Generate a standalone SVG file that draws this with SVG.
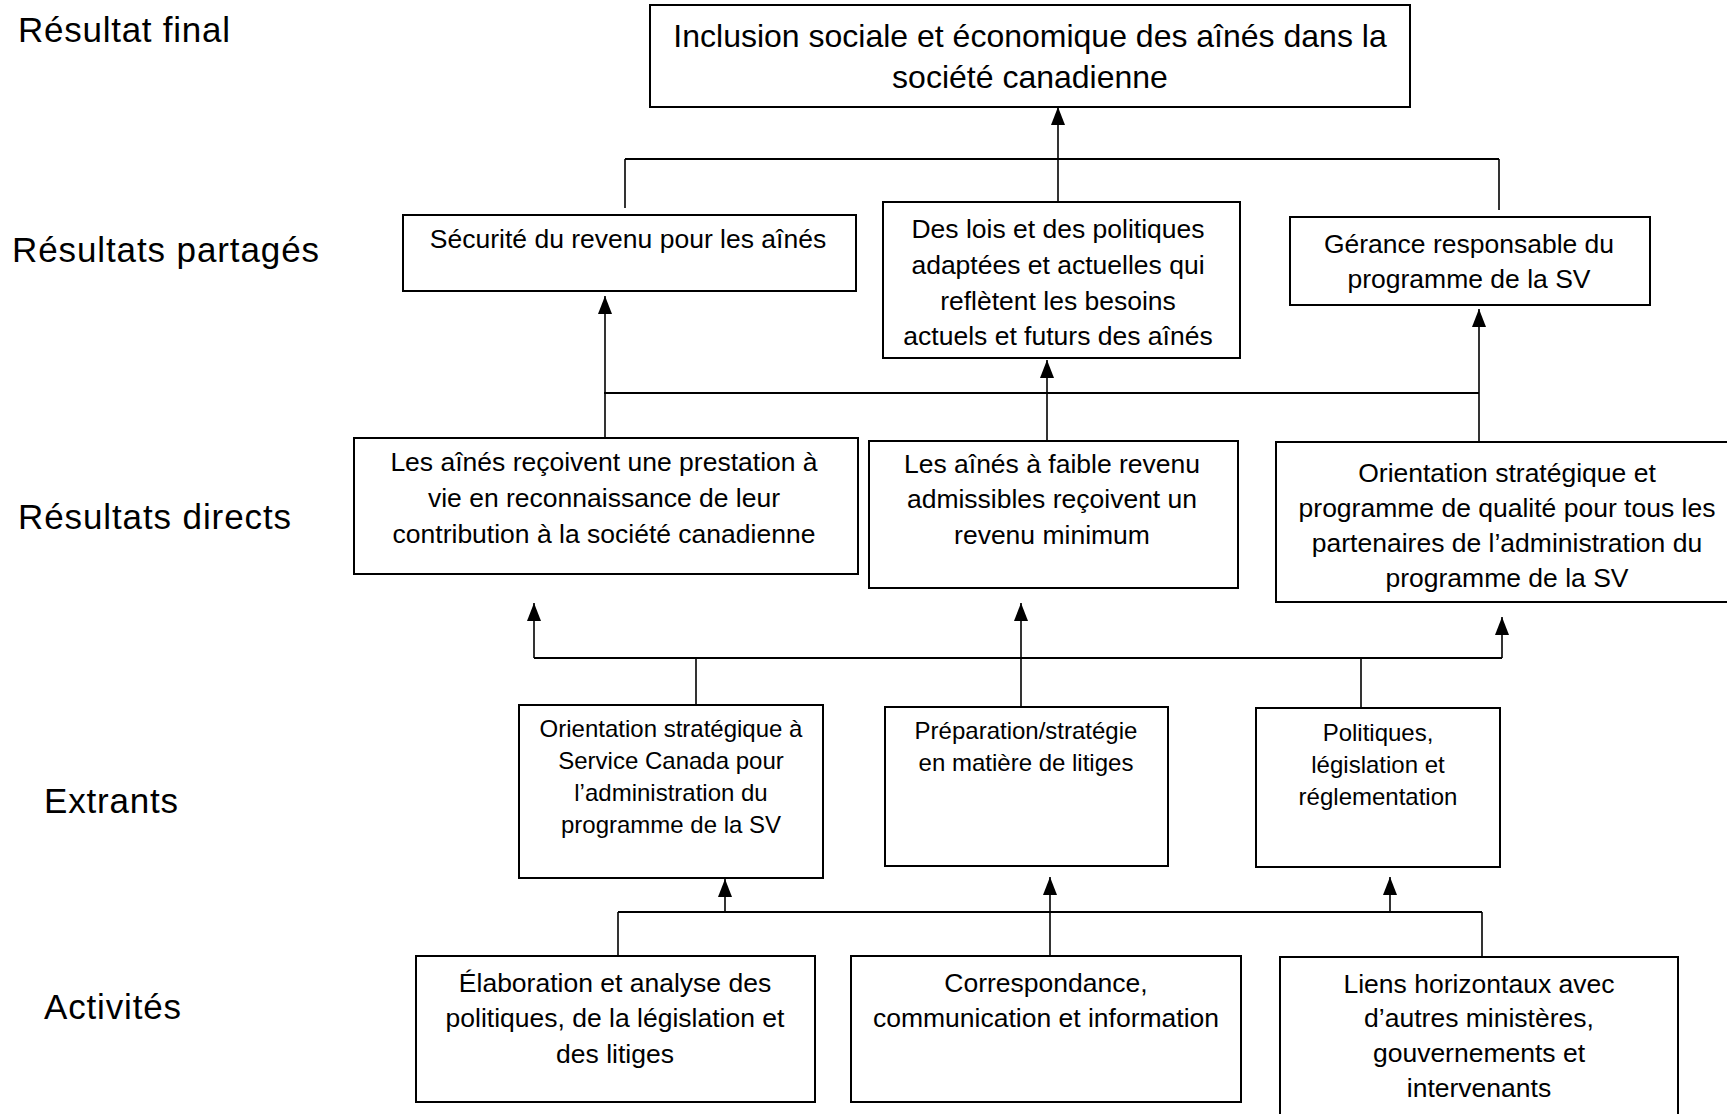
<svg xmlns="http://www.w3.org/2000/svg" width="1727" height="1114" viewBox="0 0 1727 1114">
<style>
.box{fill:#fff;stroke:#000;stroke-width:2}
.t{font-family:"Liberation Sans",Arial,sans-serif;fill:#000;text-anchor:middle}
.t32{font-size:32px}
.t26{font-size:26.5px}
.t24{font-size:24px}
.lbl{font-family:"Liberation Sans",Arial,sans-serif;font-size:35px;fill:#000}
.c{fill:none;stroke:#000;stroke-width:1.6}
.h{fill:none;stroke:#000;stroke-width:2.2}
</style>
<defs>
<marker id="arr" viewBox="0 0 18 14" markerWidth="18" markerHeight="14" refX="18" refY="7" orient="auto" markerUnits="userSpaceOnUse">
<path d="M0,0 L18,7 L0,14 z" fill="#000"/>
</marker>
</defs>
<rect width="1727" height="1114" fill="#fff"/>

<g id="labels">
<text class="lbl" x="18" y="42" textLength="212">Résultat final</text>
<text class="lbl" x="12" y="262" textLength="307">Résultats partagés</text>
<text class="lbl" x="18" y="529" textLength="273">Résultats directs</text>
<text class="lbl" x="44" y="813" textLength="134">Extrants</text>
<text class="lbl" x="44" y="1019" textLength="137">Activités</text>
</g>

<g id="connectors">
<path class="h" d="M625,159 H1499"/>
<path class="c" d="M625,159 V208"/>
<path class="c" d="M1499,159 V210"/>
<path class="c" d="M1058,202 V107" marker-end="url(#arr)"/>
<path class="h" d="M604,393 H1479"/>
<path class="c" d="M605,438 V296" marker-end="url(#arr)"/>
<path class="c" d="M1047,441 V360" marker-end="url(#arr)"/>
<path class="c" d="M1479,442 V309" marker-end="url(#arr)"/>
<path class="h" d="M534,658 H1502"/>
<path class="c" d="M534,658 V603" marker-end="url(#arr)"/>
<path class="c" d="M1502,658 V617" marker-end="url(#arr)"/>
<path class="c" d="M696,658 V705"/>
<path class="c" d="M1361,658 V708"/>
<path class="c" d="M1021,707 V603" marker-end="url(#arr)"/>
<path class="h" d="M618,912 H1482"/>
<path class="c" d="M618,912 V956"/>
<path class="c" d="M1482,912 V957"/>
<path class="c" d="M1050,956 V877" marker-end="url(#arr)"/>
<path class="c" d="M725,912 V879" marker-end="url(#arr)"/>
<path class="c" d="M1390,912 V877" marker-end="url(#arr)"/>
</g>

<g id="final">
<rect class="box" x="650" y="5" width="760" height="102"/>
<text class="t t32" x="1030" y="47">Inclusion sociale et économique des aînés dans la</text>
<text class="t t32" x="1030" y="88">société canadienne</text>
</g>

<g id="partage-1">
<rect class="box" x="403" y="215" width="453" height="76"/>
<text class="t t26" x="628" y="248">Sécurité du revenu pour les aînés</text>
</g>
<g id="partage-2">
<rect class="box" x="883" y="202" width="357" height="156"/>
<text class="t t26" x="1058" y="238">Des lois et des politiques</text>
<text class="t t26" x="1058" y="274">adaptées et actuelles qui</text>
<text class="t t26" x="1058" y="310">reflètent les besoins</text>
<text class="t t26" x="1058" y="345">actuels et futurs des aînés</text>
</g>
<g id="partage-3">
<rect class="box" x="1290" y="217" width="360" height="88"/>
<text class="t t26" x="1469" y="253">Gérance responsable du</text>
<text class="t t26" x="1469" y="288">programme de la SV</text>
</g>

<g id="direct-1">
<rect class="box" x="354" y="438" width="504" height="136"/>
<text class="t t26" x="604" y="471">Les aînés reçoivent une prestation à</text>
<text class="t t26" x="604" y="507">vie en reconnaissance de leur</text>
<text class="t t26" x="604" y="543">contribution à la société canadienne</text>
</g>
<g id="direct-2">
<rect class="box" x="869" y="441" width="369" height="147"/>
<text class="t t26" x="1052" y="473">Les aînés à faible revenu</text>
<text class="t t26" x="1052" y="508">admissibles reçoivent un</text>
<text class="t t26" x="1052" y="544">revenu minimum</text>
</g>
<g id="direct-3">
<rect class="box" x="1276" y="442" width="452" height="160"/>
<text class="t t26" x="1507" y="482">Orientation stratégique et</text>
<text class="t t26" x="1507" y="517">programme de qualité pour tous les</text>
<text class="t t26" x="1507" y="552">partenaires de l’administration du</text>
<text class="t t26" x="1507" y="587">programme de la SV</text>
</g>

<g id="extrant-1">
<rect class="box" x="519" y="705" width="304" height="173"/>
<text class="t t24" x="671" y="737">Orientation stratégique à</text>
<text class="t t24" x="671" y="769">Service Canada pour</text>
<text class="t t24" x="671" y="801">l’administration du</text>
<text class="t t24" x="671" y="833">programme de la SV</text>
</g>
<g id="extrant-2">
<rect class="box" x="885" y="707" width="283" height="159"/>
<text class="t t24" x="1026" y="739">Préparation/stratégie</text>
<text class="t t24" x="1026" y="771">en matière de litiges</text>
</g>
<g id="extrant-3">
<rect class="box" x="1256" y="708" width="244" height="159"/>
<text class="t t24" x="1378" y="741">Politiques,</text>
<text class="t t24" x="1378" y="773">législation et</text>
<text class="t t24" x="1378" y="805">réglementation</text>
</g>

<g id="activite-1">
<rect class="box" x="416" y="956" width="399" height="146"/>
<text class="t t26" x="615" y="992">Élaboration et analyse des</text>
<text class="t t26" x="615" y="1027">politiques, de la législation et</text>
<text class="t t26" x="615" y="1063">des litiges</text>
</g>
<g id="activite-2">
<rect class="box" x="851" y="956" width="390" height="146"/>
<text class="t t26" x="1046" y="992">Correspondance,</text>
<text class="t t26" x="1046" y="1027">communication et information</text>
</g>
<g id="activite-3">
<rect class="box" x="1280" y="957" width="398" height="170"/>
<text class="t t26" x="1479" y="993">Liens horizontaux avec</text>
<text class="t t26" x="1479" y="1027">d’autres ministères,</text>
<text class="t t26" x="1479" y="1062">gouvernements et</text>
<text class="t t26" x="1479" y="1097">intervenants</text>
</g>
</svg>
